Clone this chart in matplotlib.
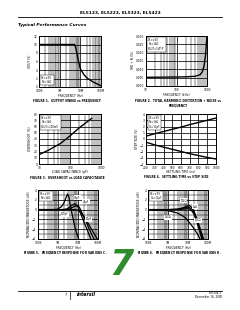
import numpy as np
import matplotlib.pyplot as plt
from matplotlib.ticker import FixedLocator, NullFormatter

# Figure 1: output swing vs frequency
f1_freq = [1e5, 1e6, 5.3e6, 6e6, 7e6, 8e6, 1e7, 1.5e7, 2e7, 3e7, 5e7, 1e8]
f1_vout = [10, 10, 10, 9.2, 7.6, 6.2, 4.3, 2.9, 2.2, 1.6, 1.0, 0.3]

# Figure 2: THD+N vs frequency
f2_freq = [10, 30, 100, 200, 400, 600, 700, 800, 900, 1000]
f2_thd = [0.0052, 0.0053, 0.0054, 0.0055, 0.0058, 0.0068, 0.0085, 0.012, 0.019, 0.030]

# Figure 3: overshoot vs load capacitance
f3_cap = [10, 20, 50, 100, 200, 500]
f3_os = [15, 22, 33, 45, 58, 73]

# Figure 4: settling time vs step size
f4_time = [200, 300, 400, 500, 600, 700, 800, 900, 1000]
f4_pos = [0.45, 0.85, 1.2, 1.55, 1.9, 2.3, 2.65, 3.0, 3.35]
f4_neg = [-0.5, -0.95, -1.3, -1.65, -2.0, -2.35, -2.65, -2.95, -3.2]

# Figure 5: frequency response for various CL
f5_freq = [1e5, 5e5, 9e5, 1.5e6, 2e6, 2.5e6, 3e6, 3.5e6, 4e6, 5e6, 7e6, 1e7, 1.2e7, 2e7, 3e7, 5e7, 1e8]
f5_curves = {
    '100pF': [0, 0, 0.05, 0.6, 1.4, 2.4, 3.2, 2.6, 1.2, -0.8, -3.6, -5.6, -6.5, -8, -9, -10, -11],
    '47pF': [0, 0, 0, 0, 0.05, 0.1, 0.2, 0.4, 0.6, 0.9, 1.2, 0.6, -0.2, -2.6, -4.3, -6.6, -8],
    '22pF': [0, 0, 0, 0, 0, 0, 0.05, 0.1, 0.2, 0.4, 0.7, 0.8, 0.4, -1.6, -3.2, -5.2, -7.5],
    '12pF': [0, 0, 0, 0, 0, 0, 0, 0, 0, 0, 0, -0.1, -0.4, -1.4, -2.6, -4.2, -6.2],
}
f5_label_pos = {'100pF': (2.2e6, -1.0), '47pF': (9e6, 2.4), '22pF': (2.5e7, 1.6), '12pF': (3.3e7, -2.0)}

# Figure 6: frequency response for various RL
f6_freq = [1e5, 1e6, 3e6, 6e6, 8e6, 1e7, 1.2e7, 1.5e7, 2e7, 3e7, 4e7, 5e7, 6e7, 1e8]
f6_curves = {
    '10kΩ': [0, 0, 0.1, 0.4, 0.6, 0.8, 0.8, 0.5, -0.3, -2.2, -3.8, -5.0, -6.0, -8],
    '1kΩ': [0, 0, 0.05, 0.3, 0.4, 0.5, 0.4, 0.1, -0.6, -2.6, -4.2, -5.6, -6.5, -8],
    '500Ω': [0, 0, 0, 0.1, 0.15, 0.2, 0.1, -0.2, -0.9, -3.0, -4.7, -6.1, -7, -8],
    '150Ω': [0, -0.2, -0.7, -1.4, -1.8, -2.3, -2.7, -3.2, -3.9, -5.0, -6.0, -7, -7.5, -8],
}
f6_label_pos = {'10kΩ': (6e6, 1.8), '1kΩ': (2.2e7, 0.6), '500Ω': (3.2e7, -2.2), '150Ω': (1e6, -1.6)}

W, H = 240, 310
fig = plt.figure(figsize=(W / 100, H / 100), dpi=100)
fs_tick = 2.1
fs_lab = 2.2


def add_ax(x0, y0, x1, y1):
    return fig.add_axes([x0 / W, 1 - y1 / H, (x1 - x0) / W, (y1 - y0) / H])


def style(ax, xlabel, ylabel):
    ax.set_xlabel(xlabel, fontsize=fs_lab, labelpad=0.5)
    ax.set_ylabel(ylabel, fontsize=fs_lab, labelpad=1)
    ax.tick_params(labelsize=fs_tick, length=0, pad=1.2)
    ax.tick_params(which='minor', length=0)
    for s in ax.spines.values():
        s.set_linewidth(0.7)
    ax.grid(True, which='major', color='black', lw=0.55)


def log_x(ax, lo, hi, labels):
    ax.set_xscale('log')
    ax.set_xlim(lo, hi)
    ticks = [lo * 10 ** i for i in range(len(labels))]
    ax.xaxis.set_major_locator(FixedLocator(ticks))
    ax.set_xticklabels(labels)
    minors = [t * m for t in ticks[:-1] for m in range(2, 10)]
    ax.xaxis.set_minor_locator(FixedLocator(minors))
    ax.xaxis.set_minor_formatter(NullFormatter())
    ax.grid(True, which='minor', axis='x', color='black', lw=0.35)
    ax.grid(True, which='major', axis='x', color='black', lw=0.9)


def note(ax, txt, x=0.04, y=0.96, va='top'):
    ax.text(x, y, txt, transform=ax.transAxes, fontsize=1.8, va=va, ha='left',
            linespacing=1.1, bbox=dict(fc='white', ec='black', lw=0.3, pad=0.8))


# header
fig.text(120 / W, 1 - 13 / H, 'EL5123, EL5223, EL5323, EL5423', fontsize=3.2,
         weight='bold', ha='center', va='center')
fig.add_artist(plt.Line2D([18 / W, 222 / W], [1 - 17 / H, 1 - 17 / H], color='black', lw=0.6))
fig.text(18 / W, 1 - 25 / H, 'Typical Performance Curves', fontsize=3.2, weight='bold',
         style='italic', ha='left', va='center')

# Figure 1
ax = add_ax(39, 36, 101, 87)
ax.plot(f1_freq, f1_vout, color='black', lw=1.0)
log_x(ax, 1e5, 1e8, ['100K', '1M', '10M', '100M'])
ax.set_ylim(0, 12)
ax.set_yticks(range(0, 13, 2))
style(ax, 'FREQUENCY (Hz)', 'VOUT (V)')
note(ax, 'VS=±5V\nRL=1kΩ', y=0.06, va='bottom')

# Figure 2
ax = add_ax(146, 36, 207, 86)
ax.plot(f2_freq, f2_thd, color='black', lw=1.0)
log_x(ax, 10, 1000, ['10', '100', '1000'])
ax.set_ylim(0, 0.030)
ax.set_yticks(np.arange(0, 0.0301, 0.005))
ax.set_yticklabels(['0.000', '0.005', '0.010', '0.015', '0.020', '0.025', '0.030'])
style(ax, 'FREQUENCY (kHz)', 'THD + N (%)')
note(ax, 'VS=±5V\nRL=1kΩ\nVOUT=1VP-P')

# Figure 3
ax = add_ax(39, 114, 101, 164)
ax.plot(f3_cap, f3_os, color='black', lw=1.0)
log_x(ax, 10, 1000, ['10', '100', '1000'])
ax.set_ylim(0, 80)
ax.set_yticks(range(0, 81, 10))
style(ax, 'LOAD CAPACITANCE (pF)', 'OVERSHOOT (%)')
note(ax, 'VS=±5V\nRL=1kΩ\nVOUT=100mV')

# Figure 4
ax = add_ax(146, 114, 216, 164)
ax.plot(f4_time, f4_pos, color='black', lw=1.0)
ax.plot(f4_time, f4_neg, color='black', lw=1.0)
ax.set_xlim(200, 1000)
ax.set_xticks(f4_time)
ax.set_ylim(-4, 4)
ax.set_yticks(range(-4, 5))
style(ax, 'SETTLING TIME (ns)', 'STEP SIZE (V)')
note(ax, 'VS=±5V\nRL=1kΩ\nCL=12pF')

# Figure 5
ax = add_ax(38, 190, 98, 239)
for name, vals in f5_curves.items():
    ax.plot(f5_freq, vals, color='black', lw=0.9)
    ax.text(*f5_label_pos[name], name, fontsize=1.8, ha='center', va='center',
            bbox=dict(fc='white', ec='none', pad=0.3))
log_x(ax, 1e5, 1e8, ['100K', '1M', '10M', '100M'])
ax.set_ylim(-6, 4)
ax.set_yticks(range(-6, 5, 2))
ax.set_yticks(range(-6, 5), minor=True)
ax.grid(True, which='minor', axis='y', color='black', lw=0.35)
style(ax, 'FREQUENCY (Hz)', 'NORMALIZED MAGNITUDE (dB)')
note(ax, 'VS=±5V\nRL=1kΩ')

# Figure 6
ax = add_ax(148, 190, 208, 239)
for name, vals in f6_curves.items():
    ax.plot(f6_freq, vals, color='black', lw=0.9)
    ax.text(*f6_label_pos[name], name, fontsize=1.8, ha='center', va='center',
            bbox=dict(fc='white', ec='none', pad=0.3))
log_x(ax, 1e5, 1e8, ['100K', '1M', '10M', '100M'])
ax.set_ylim(-6, 4)
ax.set_yticks(range(-6, 5, 2))
ax.set_yticks(range(-6, 5), minor=True)
ax.grid(True, which='minor', axis='y', color='black', lw=0.35)
style(ax, 'FREQUENCY (Hz)', 'NORMALIZED MAGNITUDE (dB)')
note(ax, 'VS=±5V\nCL=12pF')

# captions
caps = [
    (67, 101, 'FIGURE 1.  OUTPUT SWING vs FREQUENCY', 'center'),
    (178, 98.5, 'FIGURE 2.  TOTAL HARMONIC DISTORTION + NOISE vs\nFREQUENCY', 'top'),
    (67, 177.5, 'FIGURE 3.  OVERSHOOT vs LOAD CAPACITANCE', 'center'),
    (176, 177, 'FIGURE 4.  SETTLING TIME vs STEP SIZE', 'center'),
    (66, 253, 'FIGURE 5.  FREQUENCY RESPONSE FOR VARIOUS C$_L$', 'center'),
    (180, 253, 'FIGURE 6.  FREQUENCY RESPONSE FOR VARIOUS R$_L$', 'center'),
]
for x, y, t, va in caps:
    fig.text(x / W, 1 - y / H, t, fontsize=2.1, weight='bold', ha='center', va=va,
             linespacing=1.2)

# tab marker
fig.text(121 / W, 1 - 265 / H, '7', fontsize=25, weight='bold', style='italic',
         color='#2e8b2e', ha='center', va='center')

# footer
fig.add_artist(plt.Line2D([18 / W, 222 / W], [1 - 291 / H, 1 - 291 / H], color='black', lw=0.6))
fig.text(67 / W, 1 - 295 / H, '7', fontsize=2.4, ha='right', va='center')
fig.add_artist(plt.Line2D([70 / W, 70 / W], [1 - 292 / H, 1 - 299 / H], color='black', lw=0.5))
fig.text(77 / W, 1 - 295 / H, 'intersil', fontsize=3.4, weight='bold', style='italic',
         ha='left', va='center')
fig.text(222 / W, 1 - 293.5 / H, 'FN7344.3', fontsize=2.0, ha='right', va='center')
fig.text(222 / W, 1 - 297 / H, 'December 16, 2005', fontsize=2.0, ha='right', va='center')

fig.savefig('out.png', dpi=100)
